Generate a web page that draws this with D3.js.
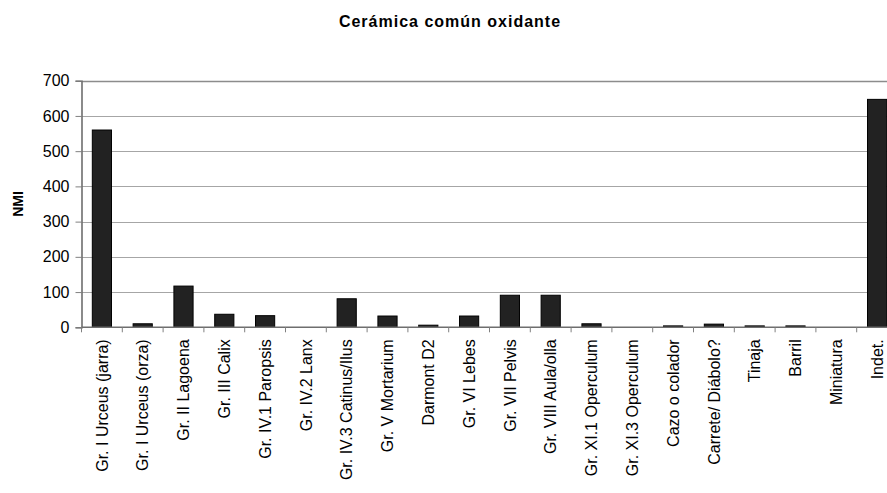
<!DOCTYPE html>
<html>
<head>
<meta charset="utf-8">
<script src="https://cdn.jsdelivr.net/npm/d3@7"></script>
<style>
  body { margin: 0; background: #fff; }
  svg { display: block; font-family: "Liberation Sans", Arial, sans-serif; }
</style>
</head>
<body>
<svg id="chart" width="887" height="493"></svg>
<script>
// data
var categories = ['Gr. I Urceus (jarra)', 'Gr. I Urceus (orza)', 'Gr. II Lagoena', 'Gr. III Calix',
    'Gr. IV.1 Paropsis', 'Gr. IV.2 Lanx', 'Gr. IV.3 Catinus/Ilus', 'Gr. V Mortarium', 'Darmont D2',
    'Gr. VI Lebes', 'Gr. VII Pelvis', 'Gr. VIII Aula/olla', 'Gr. XI.1 Operculum', 'Gr. XI.3 Operculum',
    'Cazo o colador', 'Carrete/ Diábolo?', 'Tinaja', 'Barril', 'Miniatura', 'Indet.'];
var nmi = [560, 10, 117, 37, 33, 0, 81, 32, 6, 32, 91, 91, 10, 0, 4, 9, 4, 4, 0, 647];
var yTicks = [0, 100, 200, 300, 400, 500, 600, 700];

var svg = d3.select('#chart');
var svgWidth = +svg.attr('width');

var plot = {l: 81.5, t: 80.7, b: 327.3, r: 897.5};

var x = d3.scaleBand().domain(categories)
    .range([plot.l, plot.r])
    .paddingInner(0.53).paddingOuter(0.265);
var y = d3.scaleLinear().domain([0, 700]).range([plot.b, plot.t]);

// title
svg.append('text')
    .attr('x', 450).attr('y', 27)
    .attr('text-anchor', 'middle')
    .style('font-size', '16px').style('font-weight', 'bold')
    .style('letter-spacing', '1px')
    .text('Cerámica común oxidante');

// gridlines (top one is the plot border, a bit darker)
svg.append('g').selectAll('line')
    .data(yTicks.filter(d => d > 0))
    .join('line')
    .attr('x1', plot.l).attr('x2', svgWidth)
    .attr('y1', d => Math.round(y(d)) + 0.5).attr('y2', d => Math.round(y(d)) + 0.5)
    .attr('stroke', d => d === 700 ? '#8c8c8c' : '#a6a6a6')
    .attr('stroke-width', d => d === 700 ? 1.6 : 1);

// bars
svg.append('g').selectAll('rect')
    .data(nmi)
    .join('rect')
    .attr('x', (d, i) => x(categories[i]))
    .attr('width', x.bandwidth())
    .attr('y', d => y(d))
    .attr('height', d => y(0) - y(d))
    .attr('fill', '#222')
    .attr('stroke', '#000').attr('stroke-width', 1);

// y axis
var yAxis = d3.axisLeft(y).tickValues(yTicks).tickSize(6).tickPadding(6);
var yG = svg.append('g')
    .attr('transform', 'translate(' + plot.l + ',0)')
    .call(yAxis);
yG.select('.domain').attr('stroke', '#6e6e6e').attr('stroke-width', 1.6);
yG.selectAll('.tick line').attr('stroke', '#808080');
yG.selectAll('.tick text')
    .style('font-size', '16px').attr('fill', '#000')
    .attr('font-family', null);

// x axis line + ticks at category boundaries
var xG = svg.append('g');
xG.append('line')
    .attr('x1', plot.l).attr('x2', svgWidth)
    .attr('y1', plot.b).attr('y2', plot.b)
    .attr('stroke', '#6e6e6e').attr('stroke-width', 1.4);
xG.selectAll('.xtick')
    .data(d3.range(categories.length + 1))
    .join('line')
    .attr('class', 'xtick')
    .attr('x1', i => plot.l + i * x.step()).attr('x2', i => plot.l + i * x.step())
    .attr('y1', plot.b).attr('y2', plot.b + 5)
    .attr('stroke', '#808080');

xG.selectAll('.xlabel')
    .data(categories)
    .join('text')
    .attr('class', 'xlabel')
    .attr('transform', d => 'translate(' + (x(d) + x.bandwidth() / 2) + ',' + (plot.b + 12) + ') rotate(-90)')
    .attr('dy', '0.36em')
    .attr('text-anchor', 'end')
    .style('font-size', '16px')
    .text(d => d);

// y axis title
svg.append('text')
    .attr('transform', 'translate(23,' + ((plot.t + plot.b) / 2) + ') rotate(-90)')
    .attr('text-anchor', 'middle')
    .style('font-size', '14px').style('font-weight', 'bold')
    .text('NMI');
</script>
</body>
</html>
